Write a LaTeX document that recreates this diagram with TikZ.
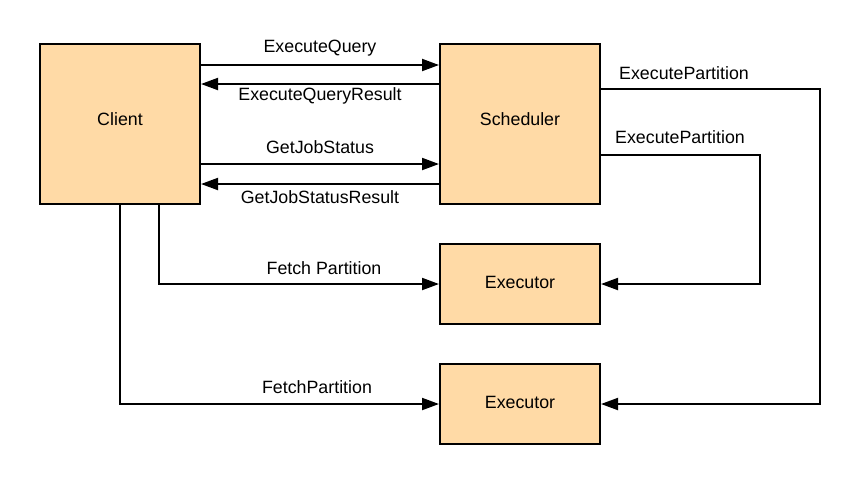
\documentclass[tikz,border=0pt]{standalone}
\usepackage{fontspec}
\setmainfont{Liberation Sans}
\usepackage{tikz}
\usetikzlibrary{arrows.meta,positioning,calc}
\definecolor{boxfill}{RGB}{255,218,166}
\tikzstyle{block}=[draw, line width=1pt, fill=boxfill, minimum width=80pt, minimum height=80pt, text depth=4.5pt, font=\fontsize{8.9}{10}\selectfont]
\tikzstyle{smallblock}=[block, minimum height=40pt, text depth=1.5pt]
\tikzstyle{flow}=[line width=1pt, -{Triangle[length=8.5pt,width=6pt]}]
\tikzstyle{lbl}=[font=\fontsize{8.9}{10}\selectfont, inner sep=0pt]

\begin{document}
\begin{tikzpicture}[x=0.5pt,y=-0.5pt]
	\useasboundingbox (0,0) rectangle (860,484);
	% boxes
	\node[block] (client) at (120,124) {Client};
	\node[block] (scheduler) at (520,124) {Scheduler};
	\node[smallblock] (exec1) at (520,284) {Executor};
	\node[smallblock] (exec2) at (520,404) {Executor};
	% client <-> scheduler
	\draw[flow] (client.east |- 0,65) -- (scheduler.west |- 0,65);
	\draw[flow] (scheduler.west |- 0,84) -- (client.east |- 0,84);
	\draw[flow] (client.east |- 0,164) -- (scheduler.west |- 0,164);
	\draw[flow] (scheduler.west |- 0,184) -- (client.east |- 0,184);
	\node[lbl] (q) at (320,48) {ExecuteQuery};
	\node[lbl] (qr) at (320,96) {ExecuteQueryResult};
	\node[lbl] (js) at (320,147) {GetJobStatus};
	\node[lbl] (jsr) at (320,197) {GetJobStatusResult};
	% fetch
	\draw[flow] (client.south -| 159,0) |- (exec1.west);
	\draw[flow] (client.south) |- (exec2.west);
	\node[lbl] (f1) at (324,268) {Fetch Partition};
	\node[lbl] (f2) at (317,387) {FetchPartition};
	% execute partition
	\draw[flow] (scheduler.east |- 0,89) -- (820,89) |- (exec2.east);
	\draw[flow] (scheduler.east |- 0,155) -- (760,155) |- (exec1.east);
	\node[lbl] (ep1) at (684,73) {ExecutePartition};
	\node[lbl] (ep2) at (680,137) {ExecutePartition};
\end{tikzpicture}
\end{document}
